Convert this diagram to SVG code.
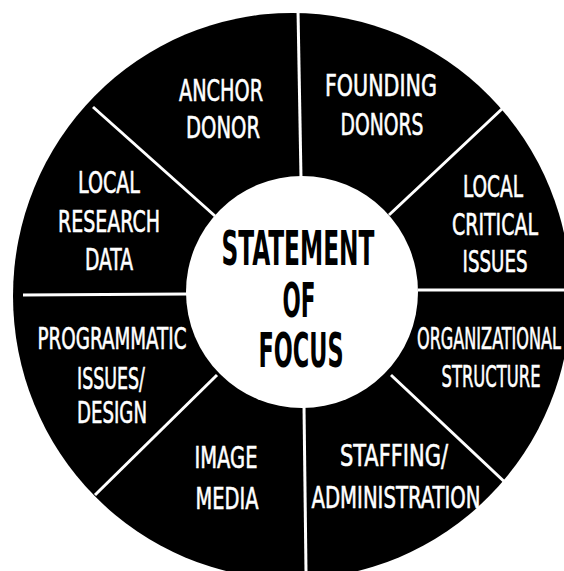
<svg xmlns="http://www.w3.org/2000/svg" width="564" height="571" viewBox="0 0 564 571">
  <style>
    .disc { fill: #000; }
    .hub { fill: #fff; }
    .divider { stroke: #fff; stroke-width: 3; stroke-linecap: butt; fill: none; }
    .label { font-family: "DejaVu Sans Condensed", "DejaVu Sans", "Liberation Sans", sans-serif; font-size: 31px; fill: #fff; stroke: #fff; stroke-width: 0.6; text-anchor: middle; }
    .hub-label { font-family: "DejaVu Sans Condensed", "DejaVu Sans", "Liberation Sans", sans-serif; font-size: 48px; font-weight: bold; fill: #000; text-anchor: middle; }
  </style>

  <rect width="564" height="571" fill="#fff"/>

  <!-- outer wheel -->
  <ellipse id="wheel" class="disc" cx="292" cy="296" rx="279" ry="283"/>

  <!-- spokes dividing the wheel into eight segments -->
  <g id="connectors" class="divider">
    <line x1="298" y1="10" x2="301" y2="178"/>
    <line x1="304" y1="406" x2="306" y2="571"/>
    <line x1="23" y1="295" x2="187" y2="294"/>
    <line x1="418" y1="290" x2="564" y2="290"/>
    <line x1="93" y1="107" x2="215" y2="216"/>
    <line x1="503" y1="108" x2="389" y2="215"/>
    <line x1="217" y1="375" x2="95" y2="495"/>
    <line x1="391" y1="375" x2="511" y2="488"/>
  </g>

  <!-- centre hub -->
  <g id="statement-of-focus">
    <circle class="hub" cx="302" cy="292" r="116"/>
    <text class="hub-label" x="298" y="265" textLength="153" lengthAdjust="spacingAndGlyphs">STATEMENT</text>
    <text class="hub-label" x="299" y="317" textLength="33" lengthAdjust="spacingAndGlyphs">OF</text>
    <text class="hub-label" x="301" y="367" textLength="85" lengthAdjust="spacingAndGlyphs">FOCUS</text>
  </g>

  <g id="anchor-donor">
    <text class="label" x="221" y="101" textLength="84" lengthAdjust="spacingAndGlyphs">ANCHOR</text>
    <text class="label" x="223" y="138" textLength="74" lengthAdjust="spacingAndGlyphs">DONOR</text>
  </g>

  <g id="founding-donors">
    <text class="label" x="381" y="96" textLength="112" lengthAdjust="spacingAndGlyphs">FOUNDING</text>
    <text class="label" x="382" y="135" textLength="83" lengthAdjust="spacingAndGlyphs">DONORS</text>
  </g>

  <g id="local-critical-issues">
    <text class="label" x="493" y="197" textLength="60" lengthAdjust="spacingAndGlyphs">LOCAL</text>
    <text class="label" x="495" y="235" textLength="86" lengthAdjust="spacingAndGlyphs">CRITICAL</text>
    <text class="label" x="495" y="272" textLength="65" lengthAdjust="spacingAndGlyphs">ISSUES</text>
  </g>

  <g id="organizational-structure">
    <text class="label" x="489" y="349" textLength="144" lengthAdjust="spacingAndGlyphs">ORGANIZATIONAL</text>
    <text class="label" x="491" y="387" textLength="99" lengthAdjust="spacingAndGlyphs">STRUCTURE</text>
  </g>

  <g id="staffing-administration">
    <text class="label" x="394" y="466" textLength="108" lengthAdjust="spacingAndGlyphs">STAFFING/</text>
    <text class="label" x="396" y="508" textLength="169" lengthAdjust="spacingAndGlyphs">ADMINISTRATION</text>
  </g>

  <g id="image-media">
    <text class="label" x="226" y="468" textLength="63" lengthAdjust="spacingAndGlyphs">IMAGE</text>
    <text class="label" x="227" y="509" textLength="63" lengthAdjust="spacingAndGlyphs">MEDIA</text>
  </g>

  <g id="programmatic-issues-design">
    <text class="label" x="112" y="349" textLength="149" lengthAdjust="spacingAndGlyphs">PROGRAMMATIC</text>
    <text class="label" x="111" y="389" textLength="68" lengthAdjust="spacingAndGlyphs">ISSUES/</text>
    <text class="label" x="112" y="423" textLength="70" lengthAdjust="spacingAndGlyphs">DESIGN</text>
  </g>

  <g id="local-research-data">
    <text class="label" x="109" y="193" textLength="62" lengthAdjust="spacingAndGlyphs">LOCAL</text>
    <text class="label" x="109" y="232" textLength="102" lengthAdjust="spacingAndGlyphs">RESEARCH</text>
    <text class="label" x="109" y="270" textLength="48" lengthAdjust="spacingAndGlyphs">DATA</text>
  </g>
</svg>
